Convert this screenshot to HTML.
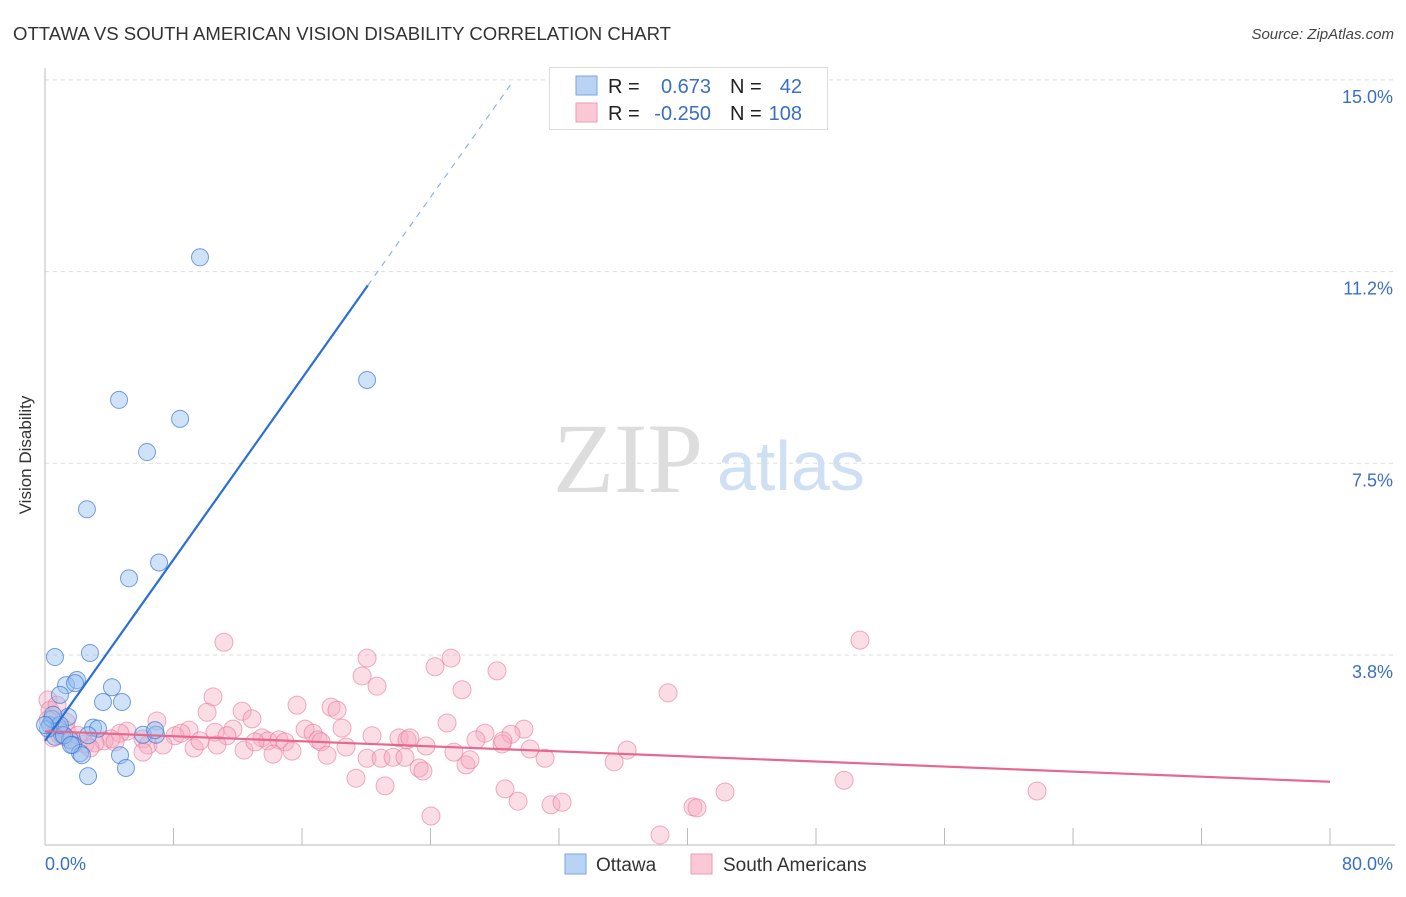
<!DOCTYPE html>
<html><head><meta charset="utf-8"><style>
body{margin:0;background:#fff;font-family:"Liberation Sans",sans-serif}
svg text{font-family:"Liberation Sans",sans-serif}
</style></head><body>
<svg id="chart" width="1406" height="892" xmlns="http://www.w3.org/2000/svg">
<text x="13" y="40" font-size="18" fill="#333" textLength="658" lengthAdjust="spacingAndGlyphs">OTTAWA VS SOUTH AMERICAN VISION DISABILITY CORRELATION CHART</text>
<text x="1394" y="39" font-size="15" fill="#444" font-style="italic" text-anchor="end">Source: ZipAtlas.com</text>
<text transform="translate(31,455) rotate(-90)" font-size="17" fill="#333" text-anchor="middle">Vision Disability</text>
<g>
<text x="553" y="492" font-size="100" fill="#ddd" style="font-family:'Liberation Serif',serif">ZIP</text>
<text x="717" y="490" font-size="70" fill="#cfe0f5">atlas</text>
</g>
<g id="grid"></g>
<g id="axes"></g>
<g id="pts"></g>
<g id="lines"></g>
<g>
<rect x="549.5" y="67.5" width="278" height="62" fill="#fff" stroke="#ddd"/>
<rect x="576" y="76" width="21" height="19" fill="#b9d3f5" stroke="#7aa6e0"/>
<rect x="576" y="103" width="21" height="19" fill="#fbc8d6" stroke="#ee9db5"/>
<text x="608" y="93" font-size="20" fill="#222">R =</text>
<text x="711" y="93" font-size="20" fill="#3a6fc4" text-anchor="end">0.673</text>
<text x="730" y="93" font-size="20" fill="#222">N =</text>
<text x="802" y="93" font-size="20" fill="#3a6fc4" text-anchor="end">42</text>
<text x="608" y="120" font-size="20" fill="#222">R =</text>
<text x="711" y="120" font-size="20" fill="#3a6fc4" text-anchor="end">-0.250</text>
<text x="730" y="120" font-size="20" fill="#222">N =</text>
<text x="802" y="120" font-size="20" fill="#3a6fc4" text-anchor="end">108</text>
</g>
<g>
<rect x="565" y="854" width="21" height="20" fill="#b9d3f5" stroke="#7aa6e0"/>
<text x="596" y="871" font-size="19" fill="#333">Ottawa</text>
<rect x="691" y="854" width="21" height="20" fill="#fbc8d6" stroke="#ee9db5"/>
<text x="723" y="871" font-size="19" fill="#333">South Americans</text>
</g>
</svg>
<script>
const yTicks=[3.75,7.5,11.25,15];
const yTickLabels=["3.8%","7.5%","11.2%","15.0%"];
const xTicks=[0,8,16,24,32,40,48,56,64,72,80];
const ottawaX=[0.62,2.80,1.31,1.99,1.87,0.93,4.17,3.61,4.79,1.43,0.81,0.31,2.99,3.30,1.06,6.10,6.91,0.62,1.56,1.74,2.18,2.30,4.67,5.04,2.68,0.19,0.44,9.65,20.05,4.61,8.41,6.35,2.61,5.23,7.10,2.68,1.18,6.85,0.93,0.50,1.62,0.0];
const ottawaY=[3.71,3.79,3.16,3.26,3.20,2.97,3.12,2.83,2.83,2.54,2.35,2.38,2.33,2.31,2.19,2.19,2.19,2.15,2.09,1.99,1.83,1.79,1.79,1.54,1.38,2.31,2.50,11.53,9.13,8.74,8.37,7.72,6.60,5.25,5.56,2.18,2.18,2.28,2.38,2.58,1.99,2.38];
const saX=[11.14,50.74,20.05,25.28,24.28,28.14,19.74,20.67,25.96,38.79,10.46,15.69,17.81,18.18,10.09,12.27,12.89,25.03,6.97,11.70,8.97,16.19,16.69,18.49,29.82,27.39,29.01,26.83,20.36,22.04,22.54,22.72,5.11,4.67,8.09,8.47,10.58,11.33,13.51,13.88,14.57,14.94,17.00,17.18,6.10,6.41,4.11,3.67,3.11,2.49,1.68,1.25,0.93,0.50,0.19,0.31,0.75,1.31,7.35,9.28,10.71,12.39,14.20,15.38,17.56,18.74,20.05,20.92,21.67,22.41,23.72,25.46,26.21,26.46,28.45,30.20,31.13,36.24,35.43,28.51,19.36,21.17,23.29,23.53,28.64,29.45,31.50,32.19,40.34,40.59,42.34,49.75,61.76,24.03,38.29,6.10,2.80,4.36,9.65,13.07,0.75,0.19,1.31,2.05];
const saY=[4.00,4.04,3.69,3.69,3.52,3.44,3.34,3.14,3.07,3.01,2.93,2.77,2.73,2.67,2.63,2.65,2.50,2.42,2.46,2.30,2.28,2.30,2.22,2.32,2.30,2.22,2.20,2.09,2.17,2.13,2.09,2.13,2.26,2.22,2.17,2.22,2.24,2.17,2.13,2.07,2.09,2.05,2.09,2.05,2.11,1.99,2.11,2.07,2.03,2.01,2.07,2.15,2.18,2.13,2.87,2.67,2.77,2.28,1.99,1.93,1.99,1.89,1.81,1.87,1.79,1.95,1.73,1.73,1.75,1.75,1.97,1.85,1.60,1.70,2.01,1.91,1.73,1.89,1.66,2.07,1.34,1.19,1.54,1.48,1.13,0.89,0.82,0.87,0.78,0.76,1.07,1.30,1.09,0.60,0.23,1.85,1.93,2.05,2.07,2.05,2.32,2.48,2.44,2.18];
const ottawaTrend=[[0,2.07],[20.1,10.98],[29.2,15.0]];
const saTrend=[[0,2.26],[80,1.27]];
const NS="http://www.w3.org/2000/svg";
const X=v=>45+v/80*1285;
const Y=v=>846.7-v/3.75*191.7;
function mk(tag,attrs,parent){const e=document.createElementNS(NS,tag);for(const k in attrs)e.setAttribute(k,attrs[k]);document.getElementById(parent).appendChild(e);return e;}
yTicks.forEach((t,i)=>{
 const l=mk('line',{x1:45,x2:1395,y1:Y(t),y2:Y(t),stroke:'#ddd','stroke-dasharray':'4,4'},'grid');
 
 
 const tx=mk('text',{x:1393,y:Y(t)+23,'font-size':18,fill:'#3a6fc4','text-anchor':'end'},'grid');
 tx.textContent=yTickLabels[i];
 
 
});
let a=mk('line',{x1:45,x2:45,y1:68,y2:845,stroke:'#bbb'},'axes');


a=mk('line',{x1:45,x2:1395,y1:845,y2:845,stroke:'#bbb'},'axes');


xTicks.forEach(t=>{const l=mk('line',{x1:X(t),x2:X(t),y1:828,y2:845,stroke:'#bbb'},'axes');
 
 });
let t0=mk('text',{x:45,y:870,'font-size':18,fill:'#3a6fc4'},'axes');t0.textContent='0.0%';


let t1=mk('text',{x:1393,y:870,'font-size':18,fill:'#3a6fc4','text-anchor':'end'},'axes');t1.textContent='80.0%';


saX.forEach((x,i)=>{const c=mk('circle',{cx:X(x),cy:Y(saY[i]),r:9,fill:'rgba(244,170,192,0.4)',stroke:'rgba(230,120,155,0.6)','stroke-width':1},'pts');
 
 });
ottawaX.forEach((x,i)=>{const c=mk('circle',{cx:X(x),cy:Y(ottawaY[i]),r:8.5,fill:'rgba(150,190,240,0.45)',stroke:'rgba(60,120,210,0.7)','stroke-width':1},'pts');
 
 });
let l=mk('line',{x1:X(ottawaTrend[0][0]),y1:Y(ottawaTrend[0][1]),x2:X(ottawaTrend[1][0]),y2:Y(ottawaTrend[1][1]),stroke:'#2a6fd6','stroke-width':2.2},'lines');


l=mk('line',{x1:X(ottawaTrend[1][0]),y1:Y(ottawaTrend[1][1]),x2:X(ottawaTrend[2][0]),y2:Y(ottawaTrend[2][1]),stroke:'#8fb2e6','stroke-width':1.2,'stroke-dasharray':'6,6'},'lines');


l=mk('line',{x1:X(saTrend[0][0]),y1:Y(saTrend[0][1]),x2:X(saTrend[1][0]),y2:Y(saTrend[1][1]),stroke:'#e8678f','stroke-width':2.2},'lines');


</script>
</body></html>
